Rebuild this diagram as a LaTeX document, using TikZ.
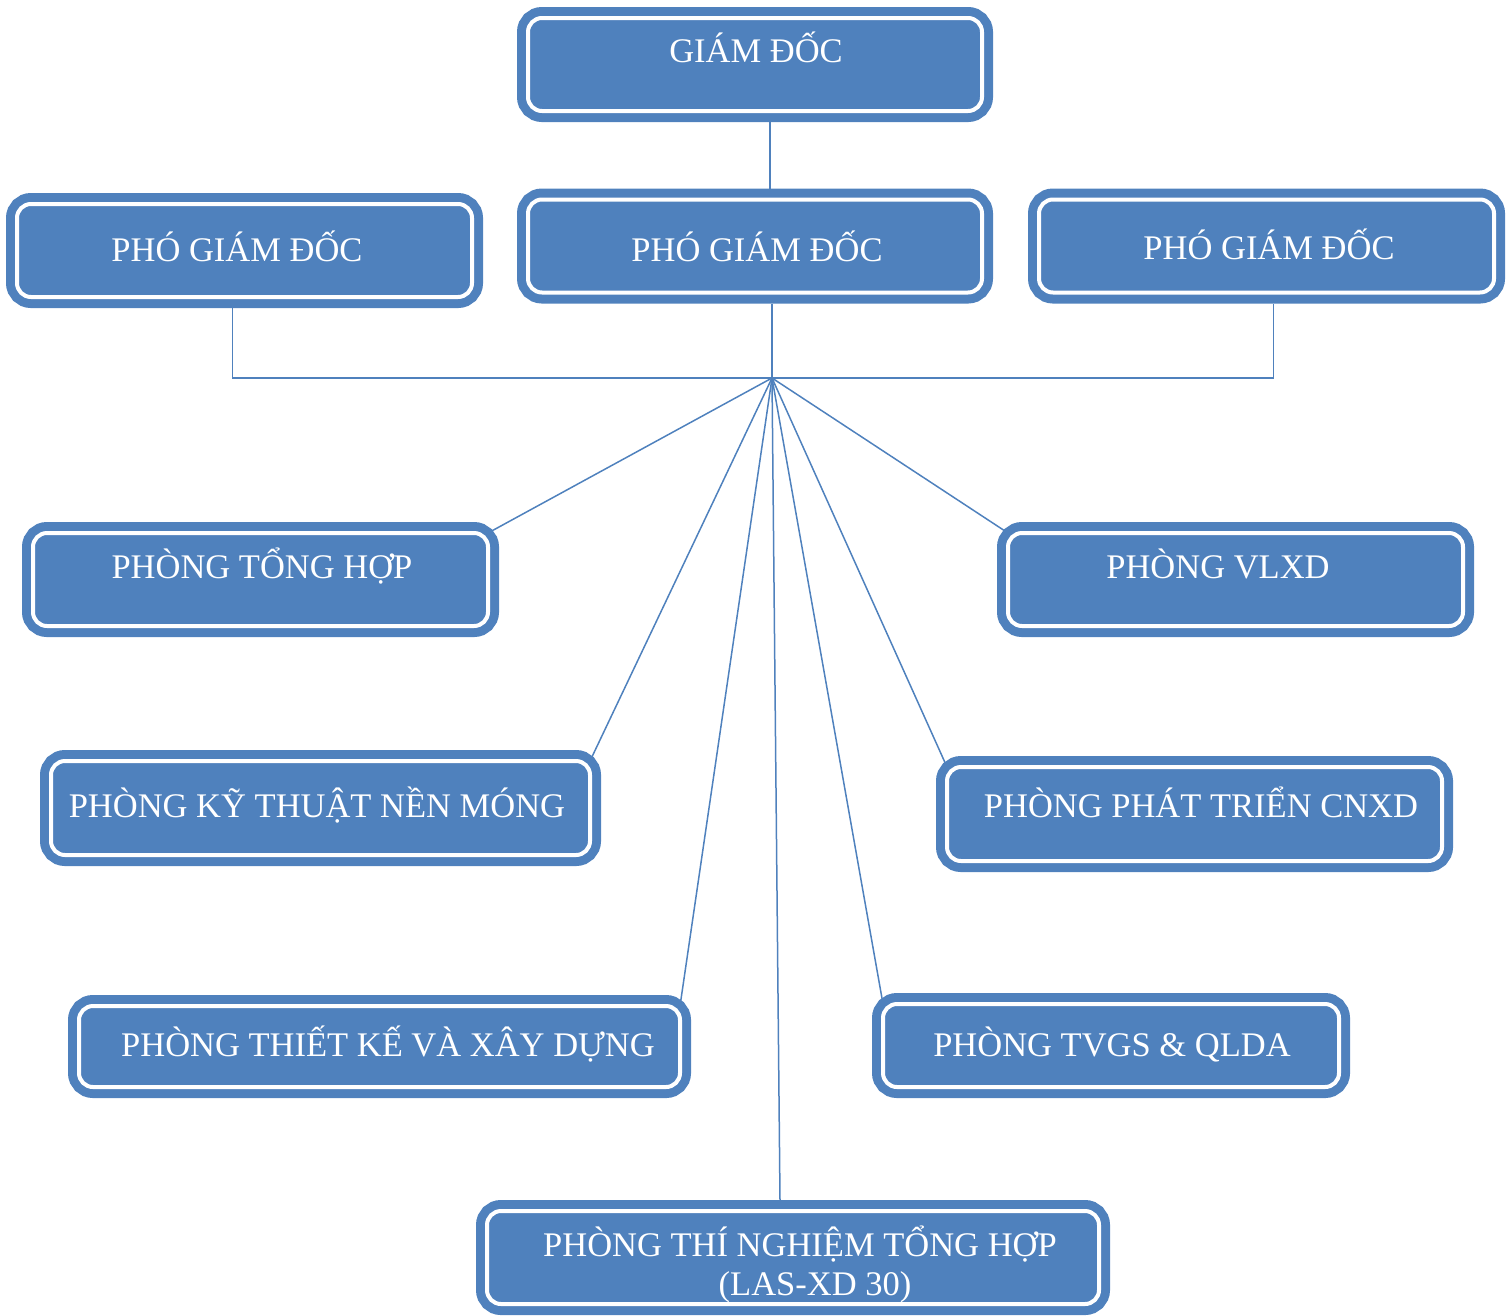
\documentclass[tikz,border=0pt]{standalone}
\usepackage{fontspec}
\setmainfont{Liberation Serif}
\usetikzlibrary{calc}
\definecolor{boxblue}{HTML}{4F81BD}

\begin{document}
\begin{tikzpicture}[x=1pt,y=-1pt,
    unitbox/.style={draw=boxblue, fill=boxblue, double=white, double distance=4pt,
      line width=9pt, rounded corners=14pt, outer sep=0pt, inner sep=0pt,
      minimum height=93pt},
    lbl/.style={text=white, font=\fontsize{34.5}{40}\selectfont, anchor=base, inner sep=0pt},
    link/.style={draw=boxblue, line width=1.5pt}]

    \useasboundingbox (0,0) rectangle (1506,1315);

    % boxes
    \node (gd)  [unitbox, minimum width=454pt] at (755,64.5) {};
    \node (pgd1) [unitbox, minimum width=455pt] at (244.5,250.5) {};
    \node (pgd2) [unitbox, minimum width=454pt] at (755,246) {};
    \node (pgd3) [unitbox, minimum width=455pt] at (1266.5,246) {};
    \node (th)  [unitbox, minimum width=455pt] at (260.5,579.5) {};
    \node (vl)  [unitbox, minimum width=455pt] at (1235.5,579.5) {};
    \node (kt)  [unitbox, minimum width=539pt, minimum height=94pt] at (320.5,808) {};
    \node (pt)  [unitbox, minimum width=495pt, minimum height=94pt] at (1194.5,814) {};
    \node (tk)  [unitbox, minimum width=601pt, minimum height=81pt] at (379.5,1046.5) {};
    \node (tv)  [unitbox, minimum width=456pt, minimum height=83pt] at (1111,1045.5) {};
    \node (tn)  [unitbox, minimum width=612pt] at (793,1257.5) {};

    % texts
    \node (gdt)  [lbl] at (756,62) {GIÁM ĐỐC};
    \node (pgd1t) [lbl] at (237,261) {PHÓ GIÁM ĐỐC};
    \node (pgd2t) [lbl] at (757,261) {PHÓ GIÁM ĐỐC};
    \node (pgd3t) [lbl] at (1269,259) {PHÓ GIÁM ĐỐC};
    \node (tht)  [lbl] at (262,578) {PHÒNG TỔNG HỢP};
    \node (vlt)  [lbl] at (1218,578) {PHÒNG VLXD};
    \node (ktt)  [lbl] at (317,817) {PHÒNG KỸ THUẬT NỀN MÓNG};
    \node (ptt)  [lbl] at (1201,817) {PHÒNG PHÁT TRIỂN CNXD};
    \node (tkt)  [lbl] at (388,1056) {PHÒNG THIẾT KẾ VÀ XÂY DỰNG};
    \node (tvt)  [lbl] at (1112,1056) {PHÒNG TVGS \& QLDA};
    \node (tnt1) [lbl] at (800,1256) {PHÒNG THÍ NGHIỆM TỔNG HỢP};
    \node (tnt2) [lbl] at (815,1295) {(LAS-XD 30)};

    % connectors
    \coordinate (hub) at (772,378);
    \draw[link] ($(gd.south)+(15,11)$) -- ($(pgd2.north)+(15,-11)$);
    \draw[link] ($(pgd2.south)+(17,11)$) -- (hub);
    \draw[link] ($(pgd1.south)+(-12,11)$) |- (hub) -| ($(pgd3.south)+(7,11)$);

    \draw[link] (hub) -- (th.north east);
    \draw[link] (hub) -- (kt.north east);
    \draw[link] (hub) -- (tk.north east);
    \draw[link] (hub) -- ($(tn.north)+(-13,-11)$);
    \draw[link] (hub) -- (tv.north west);
    \draw[link] (hub) -- (pt.north west);
    \draw[link] (hub) -- (vl.north west);

\end{tikzpicture}
\end{document}
